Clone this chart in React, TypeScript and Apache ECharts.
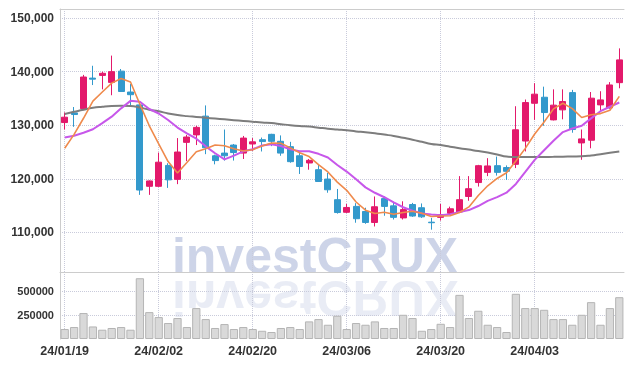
import React, { useEffect, useRef } from 'react';
import * as echarts from 'echarts';

const dates = [
  '24/01/19', '24/01/22', '24/01/23', '24/01/24', '24/01/25', '24/01/26', '24/01/29', '24/01/30', '24/01/31', '24/02/01',
  '24/02/02', '24/02/05', '24/02/06', '24/02/07', '24/02/08', '24/02/13', '24/02/14', '24/02/15', '24/02/16', '24/02/19',
  '24/02/20', '24/02/21', '24/02/22', '24/02/23', '24/02/26', '24/02/27', '24/02/28', '24/02/29', '24/03/04', '24/03/05',
  '24/03/06', '24/03/07', '24/03/08', '24/03/11', '24/03/12', '24/03/13', '24/03/14', '24/03/15', '24/03/18', '24/03/19',
  '24/03/20', '24/03/21', '24/03/22', '24/03/25', '24/03/26', '24/03/27', '24/03/28', '24/03/29', '24/04/01', '24/04/02',
  '24/04/03', '24/04/04', '24/04/05', '24/04/08', '24/04/09', '24/04/11', '24/04/12', '24/04/15', '24/04/16', '24/04/17',
];

const opens = [
  130500, 132300, 133100, 138800, 139300, 138000, 140100, 136200, 133800, 118600,
  118600, 122500, 119900, 126800, 128200, 131700, 124300, 124800, 126300, 124800,
  126500, 127300, 128300, 127000, 126000, 124300, 122950, 121700, 119950, 116100,
  113750, 114850, 113900, 111850, 116300, 114950, 112700, 115200, 114600, 111900,
  112800, 113550, 113800, 116700, 119300, 121200, 122450, 122100, 122700, 127050,
  134100, 135230, 131000, 132870, 136090, 126700, 127200, 133800, 133250, 137950,
];
const closes = [
  131500, 132000, 139000, 138600, 139700, 140000, 136300, 135700, 117900, 119600,
  123100, 119800, 125000, 127800, 129600, 125800, 123400, 124300, 124900, 127600,
  126900, 126950, 127000, 124800, 123200, 122300, 123450, 119500, 117950, 113700,
  114650, 112550, 111850, 114780, 114850, 112800, 114250, 113050, 112900, 111800,
  113300, 114400, 116100, 118150, 122450, 122400, 121200, 121400, 129150, 134230,
  135800, 132370, 133750, 134420, 129200, 127450, 135050, 134730, 137520, 142200,
];
const lows = [
  129200, 129700, 132800, 137500, 136700, 135600, 136200, 133600, 117000, 117000,
  118500, 118300, 119000, 123300, 126300, 124600, 122700, 123400, 123400, 123700,
  125200, 125100, 126100, 124300, 123000, 120900, 121700, 119400, 117400, 113500,
  113600, 111800, 111600, 111100, 113100, 112400, 112400, 112900, 112700, 110500,
  112200, 113400, 113600, 115900, 118550, 120500, 120600, 119800, 122000, 125100,
  131000, 129900, 130900, 131100, 128600, 123550, 125700, 132700, 133100, 136900,
];
const highs = [
  132400, 133400, 139400, 141100, 140000, 143000, 140500, 137700, 134000, 119700,
  124900, 122900, 127600, 128200, 129900, 133700, 124500, 129200, 126500, 128000,
  127600, 127700, 128400, 128100, 126900, 125100, 123700, 122600, 121100, 118100,
  115300, 115450, 114600, 116700, 116700, 115500, 115800, 115500, 115400, 112700,
  115300, 114800, 120500, 120500, 122600, 123850, 124150, 122500, 133550, 134800,
  137850, 137200, 136700, 136700, 136600, 129200, 136200, 136350, 138050, 144350,
];

const ma5 = [
  125700, 128300, 131300, 134500, 136200, 137860, 138720, 138060, 133920, 129900,
  126520, 123220, 121080, 123060, 125060, 125600, 126320, 126180, 125600, 125200,
  125420, 126130, 126670, 126650, 125770, 124850, 124150, 122650, 121280, 119380,
  117850, 115670, 114140, 113510, 113740, 113370, 113710, 113950, 113570, 112960,
  113060, 113090, 113700, 114750, 116880, 118700, 120060, 121120, 123320, 125680,
  128360, 130590, 133060, 134110, 133110, 131440, 131970, 132170, 132790, 135390,
];
const ma10 = [
  127700, 128050, 128600, 129250, 130400, 131600, 133150, 134550, 134400, 133030,
  132190, 130970, 129570, 128490, 127480, 126060, 124770, 123630, 124330, 125130,
  125510, 126230, 126430, 126130, 125490, 125140, 125140, 124660, 123970, 122580,
  121350, 119910, 118400, 117390, 116560, 115610, 114690, 114040, 113540, 113350,
  113210, 113400, 113820, 114160, 114920, 115880, 116580, 117410, 119040, 121280,
  123530, 125330, 127090, 128720, 129390, 129900, 131280, 132620, 133450, 134250,
];
const maLong = [
  132100, 132500, 132900, 133250, 133450, 133600, 133650, 133600, 133300, 132900,
  132600, 132200, 131900, 131700, 131550, 131400, 131250, 131100, 130950, 130800,
  130650, 130500, 130400, 130200, 130000, 129850, 129750, 129550, 129350, 129200,
  129050, 128850, 128700, 128500, 128250, 128000, 127650, 127300, 126900, 126500,
  126300, 126000, 125700, 125450, 125200, 124900, 124550, 124150, 124050, 124050,
  124050, 124080, 124100, 124130, 124160, 124190, 124350, 124600, 124850, 125100,
];
const volumes = [
  104000, 125000, 271000, 131000, 97000, 115000, 125000, 97000, 635000, 281000,
  229000, 167000, 219000, 125000, 323000, 208000, 115000, 156000, 104000, 125000,
  104000, 86000, 73000, 115000, 125000, 104000, 184000, 208000, 149000, 243000,
  104000, 167000, 149000, 184000, 115000, 115000, 253000, 219000, 86000, 104000,
  159000, 125000, 461000, 219000, 295000, 149000, 125000, 73000, 472000, 323000,
  323000, 305000, 208000, 208000, 149000, 253000, 385000, 149000, 323000, 437000,
];

const UP = '#e3196b';
const DOWN = '#3399cc';
const FONT = "'Liberation Sans', Arial, sans-serif";
const GRIDLINE = { type: 'dotted', color: '#c9cbdb', width: 1 };
const AXISLINE = { color: '#cccccc', width: 1 };

export default function App() {
  const ref = useRef<HTMLDivElement>(null);
  useEffect(() => {
    const chart = echarts.init(ref.current!, null, { renderer: 'svg' });
    const candleData = dates.map((_, i) => [opens[i], closes[i], lows[i], highs[i]]);
    const wm = 'investCRUX';
    chart.setOption({
      animation: false,
      graphic: [
        {
          type: 'text', x: 315, y: 256, z: 0,
          style: { text: wm, font: "bold 50px 'Liberation Sans', Arial, sans-serif", fill: 'rgba(196,204,228,0.85)', textAlign: 'center', textVerticalAlign: 'middle' },
        },
        {
          type: 'text', x: 315, y: 298, scaleY: -1, z: 0,
          style: { text: wm, font: "bold 50px 'Liberation Sans', Arial, sans-serif", fill: 'rgba(200,207,229,0.4)', textAlign: 'center', textVerticalAlign: 'middle' },
        },
      ],
      grid: [
        { left: 60, top: 9, width: 564, height: 263, outerBoundsMode: 'none', containLabel: false },
        { left: 60, top: 272, width: 564, height: 67, outerBoundsMode: 'none', containLabel: false },
      ],
      xAxis: [
        {
          type: 'category', gridIndex: 0, data: dates, position: 'bottom',
          axisLine: { show: true, lineStyle: AXISLINE }, axisTick: { show: false }, axisLabel: { show: false },
          splitLine: { show: true, interval: 9, alignWithLabel: true, lineStyle: GRIDLINE },
        },
        {
          type: 'category', gridIndex: 0, data: dates, position: 'top',
          axisLine: { show: true, lineStyle: AXISLINE }, axisTick: { show: false }, axisLabel: { show: false }, splitLine: { show: false },
        },
        {
          type: 'category', gridIndex: 1, data: dates, position: 'bottom',
          axisLine: { show: false }, axisTick: { show: false },
          axisLabel: { show: true, interval: 9, margin: 5, color: '#333', fontSize: 12.5, fontWeight: 'bold', fontFamily: FONT },
          splitLine: { show: true, interval: 9, alignWithLabel: true, lineStyle: GRIDLINE },
        },
      ],
      yAxis: [
        {
          type: 'value', gridIndex: 0, min: 102600, max: 151700, scale: true,
          axisLine: { show: true, lineStyle: AXISLINE }, axisTick: { show: false },
          axisLabel: {
            showMinLabel: false, showMaxLabel: false, margin: 6, color: '#333', fontSize: 12, fontWeight: 'bold', fontFamily: FONT,
            formatter: (v: number) => v.toLocaleString('en-US'),
          },
          splitLine: { show: true, showMinLine: false, showMaxLine: false, lineStyle: GRIDLINE },
        },
        {
          type: 'value', gridIndex: 1, min: 0, max: 700000, interval: 250000,
          axisLine: { show: true, lineStyle: AXISLINE }, axisTick: { show: false },
          axisLabel: {
            showMinLabel: false, showMaxLabel: false, margin: 6, color: '#333', fontSize: 11, fontWeight: 'bold', fontFamily: FONT,
            formatter: (v: number) => String(v),
          },
          splitLine: { show: true, showMinLine: false, showMaxLine: false, lineStyle: GRIDLINE },
        },
      ],
      series: [
        {
          type: 'candlestick', xAxisIndex: 0, yAxisIndex: 0, data: candleData, barWidth: '70%',
          itemStyle: { color: UP, color0: DOWN, borderColor: UP, borderColor0: DOWN, borderWidth: 1 },
        },
        {
          type: 'line', xAxisIndex: 0, yAxisIndex: 0, data: maLong, showSymbol: false, smooth: true,
          lineStyle: { color: '#7d7d7d', width: 2 }, z: 3,
        },
        {
          type: 'line', xAxisIndex: 0, yAxisIndex: 0, data: ma10, showSymbol: false,
          lineStyle: { color: '#c757ea', width: 2 }, z: 3,
        },
        {
          type: 'line', xAxisIndex: 0, yAxisIndex: 0, data: ma5, showSymbol: false,
          lineStyle: { color: '#ef8a4c', width: 1.6 }, z: 3,
        },
        {
          type: 'bar', xAxisIndex: 2, yAxisIndex: 1, data: volumes, barWidth: '88%',
          itemStyle: { color: '#d9d9d9', borderColor: '#b5b5b5', borderWidth: 1 },
        },
      ],
    });
    return () => chart.dispose();
  }, []);
  return <div ref={ref} style={{ position: 'fixed', left: 0, top: 0, width: 634, height: 366 }} />;
}
